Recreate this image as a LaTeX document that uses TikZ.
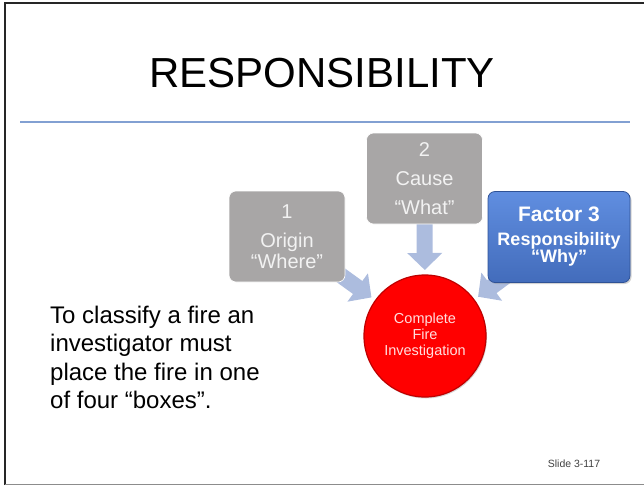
\documentclass[tikz,border=0pt]{standalone}
\usepackage{fontspec}
\setmainfont{Liberation Sans}
\usetikzlibrary{arrows.meta,shadows,backgrounds}

\definecolor{boxgray}{RGB}{168,166,166}
\definecolor{boxtext}{RGB}{242,242,242}
\definecolor{blueface}{RGB}{74,120,208}
\definecolor{bluetop}{RGB}{96,142,224}
\definecolor{blueedge}{RGB}{47,82,150}
\definecolor{arrowblue}{RGB}{172,188,222}
\definecolor{rulecol}{RGB}{130,160,210}
\definecolor{firered}{RGB}{255,0,0}
\definecolor{firetext}{RGB}{255,222,222}

\tikzset{
  factorbox/.style={rounded corners=7pt,minimum width=#1,minimum height=91pt,
    align=center,inner sep=0pt},
  graybox/.style={factorbox=116pt,fill=boxgray,draw=white,line width=0.6pt,
    text=boxtext,font=\fontsize{20}{21}\selectfont},
  bluebox/.style={factorbox=142pt,top color=bluetop,bottom color=blueface!90!black,
    draw=blueedge,line width=0.8pt,text=white,
    drop shadow={shadow xshift=1.5pt,shadow yshift=-1.5pt,opacity=0.35}},
  firecircle/.style={circle,fill=firered,draw=firered!75!black,line width=1.2pt,
    minimum size=122pt,inner sep=0pt,align=center,text=firetext,
    font=\fontsize{14.5}{16}\selectfont,
    drop shadow={shadow xshift=1pt,shadow yshift=-1.5pt,opacity=0.3}},
  blockarrow/.style={draw=arrowblue,line width=16pt,shorten >=66pt,
    -{Triangle[width=34pt,length=17pt]}},
}

\begin{document}
\begin{tikzpicture}[x=1pt,y=-1pt]
\useasboundingbox (0,0) rectangle (644,485);
% slide frame
\draw[line width=1.6pt,black!85] (5,485) -- (5,3) -- (644,3);
\draw[line width=1pt,black!45] (5,484) -- (644,484);
% title
\node (title) at (322,73) {\fontsize{42}{44}\selectfont RESPONSIBILITY};
\draw[rulecol,line width=1.3pt] (20,122) -- (630,122);
% factor boxes
\node[graybox] (origin) at (287,236.5)
  {1\\[8pt]Origin\\\textquotedblleft Where\textquotedblright};
\node[graybox] (cause) at (424.5,178.5)
  {2\\[8pt]Cause\\[8pt]\textquotedblleft What\textquotedblright};
\node[bluebox] (resp) at (559,237)
  {\fontsize{21}{22}\selectfont\bfseries Factor 3\\[9pt]
   \fontsize{18}{19}\selectfont\bfseries Responsibility\\
   \fontsize{18}{19}\selectfont\bfseries\textquotedblleft Why\textquotedblright};
% centre circle
\node[firecircle] (fire) at (425,336) {Complete\\Fire\\Investigation};
% block arrows behind the boxes
\begin{pgfonlayer}{background}
\foreach \src in {origin,cause,resp}
  \draw[blockarrow] (\src.center) -- (fire.center);
\end{pgfonlayer}
% left text
\node[anchor=north west,inner sep=0pt,align=left,
  font=\fontsize{24}{28.5}\selectfont] (classify) at (50,305.5)
  {To classify a fire an\\investigator must\\place the fire in one\\of four \textquotedblleft boxes\textquotedblright.};
% slide number
\node[text=black!75,font=\fontsize{10.5}{12}\selectfont] (slideno) at (574,464) {Slide 3-117};
\end{tikzpicture}
\end{document}
